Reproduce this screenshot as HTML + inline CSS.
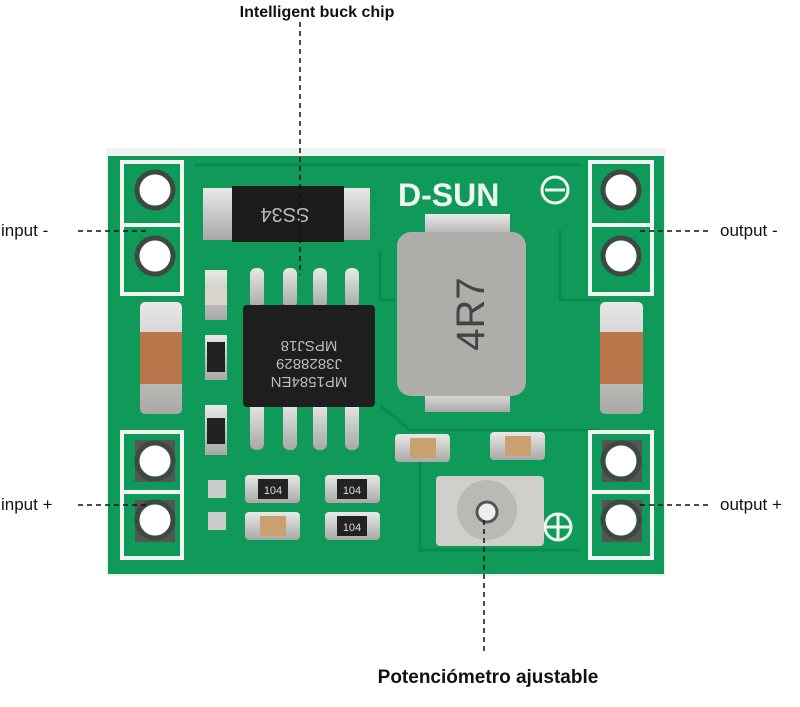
<!DOCTYPE html>
<html><head><meta charset="utf-8"><style>
body{margin:0;background:#fff;width:800px;height:707px;overflow:hidden}
svg{display:block}
text{font-family:"Liberation Sans",sans-serif}
</style></head><body>
<svg width="800" height="707" viewBox="0 0 800 707">
<defs>
<linearGradient id="sil" x1="0" y1="0" x2="0" y2="1"><stop offset="0" stop-color="#e8e8e6"/><stop offset="1" stop-color="#a8a8a6"/></linearGradient>
</defs>
<rect x="106" y="148" width="560" height="428" fill="#eef4ef"/>
<rect x="108" y="156" width="556" height="418" fill="#0f9a5a"/>
<g stroke="#0a8a4c" stroke-width="3" fill="none">
<path d="M195 165 H580"/><path d="M380 250 V300 H395"/><path d="M380 405 L410 430 H600"/><path d="M560 230 V300 H600"/><path d="M420 460 V550 H580"/>
</g>
<g fill="none" stroke="#f2f6f2" stroke-width="4">
<rect x="122" y="162" width="60" height="132"/><line x1="122" y1="225" x2="182" y2="225"/>
<rect x="122" y="432" width="60" height="126"/><line x1="122" y1="492" x2="182" y2="492"/>
<rect x="590" y="162" width="62" height="132"/><line x1="590" y1="225" x2="652" y2="225"/>
<rect x="590" y="432" width="62" height="126"/><line x1="590" y1="492" x2="652" y2="492"/>
</g>
<g fill="#555"><rect x="135" y="440" width="40" height="42"/><rect x="135" y="500" width="40" height="42"/><rect x="602" y="440" width="40" height="42"/><rect x="602" y="500" width="40" height="42"/></g>
<g fill="#fff" stroke="#3a4a40" stroke-width="5">
<circle cx="155" cy="190" r="18"/><circle cx="155" cy="256" r="18"/><circle cx="155" cy="461" r="18"/><circle cx="155" cy="520" r="18"/>
<circle cx="621" cy="190" r="18"/><circle cx="621" cy="256" r="18"/><circle cx="621" cy="461" r="18"/><circle cx="621" cy="520" r="18"/>
</g>
<rect x="140" y="302" width="42" height="112" rx="5" fill="url(#sil)"/><rect x="140" y="332" width="42" height="52" fill="#b8764a"/>
<rect x="600" y="302" width="43" height="112" rx="5" fill="url(#sil)"/><rect x="600" y="332" width="43" height="52" fill="#b8764a"/>
<rect x="203" y="188" width="30" height="52" fill="url(#sil)"/><rect x="340" y="188" width="30" height="52" fill="url(#sil)"/>
<rect x="232" y="186" width="112" height="56" fill="#1c1c1c"/>
<text x="285" y="222" font-size="20" fill="#bbb" text-anchor="middle" transform="rotate(180 285 215)">SS34</text>
<g fill="url(#sil)">
<rect x="250" y="268" width="14" height="40" rx="6"/><rect x="283" y="268" width="14" height="40" rx="6"/><rect x="313" y="268" width="14" height="40" rx="6"/><rect x="345" y="268" width="14" height="40" rx="6"/>
<rect x="250" y="402" width="14" height="48" rx="6"/><rect x="283" y="402" width="14" height="48" rx="6"/><rect x="313" y="402" width="14" height="48" rx="6"/><rect x="345" y="402" width="14" height="48" rx="6"/>
</g>
<rect x="243" y="305" width="132" height="102" rx="4" fill="#1e1e1e"/>
<g transform="rotate(180 309 355)" fill="#bbb" font-size="15" text-anchor="middle">
<text x="309" y="333">MP1584EN</text><text x="309" y="351">J3828829</text><text x="309" y="369">MPSJ18</text></g>
<rect x="425" y="214" width="85" height="25" fill="url(#sil)"/><rect x="425" y="390" width="85" height="22" fill="url(#sil)"/>
<rect x="397" y="232" width="129" height="164" rx="14" fill="#aeadaa"/>
<text x="470" y="328" font-size="40" fill="#444" text-anchor="middle" transform="rotate(-90 470 314)">4R7</text>
<text x="398" y="206" font-size="32" font-weight="bold" fill="#f0f5f0">D-SUN</text>
<circle cx="555" cy="190" r="13" fill="none" stroke="#f0f5f0" stroke-width="3"/><line x1="545" y1="190" x2="565" y2="190" stroke="#f0f5f0" stroke-width="3"/>
<circle cx="558" cy="527" r="13" fill="none" stroke="#f0f5f0" stroke-width="3"/><line x1="545" y1="527" x2="571" y2="527" stroke="#f0f5f0" stroke-width="3"/><line x1="558" y1="514" x2="558" y2="540" stroke="#f0f5f0" stroke-width="3"/>
<rect x="205" y="270" width="22" height="50" fill="url(#sil)"/><rect x="205" y="285" width="22" height="20" fill="#d8d4cc"/>
<rect x="205" y="335" width="22" height="45" fill="url(#sil)"/><rect x="207" y="342" width="18" height="30" fill="#222"/>
<rect x="205" y="405" width="22" height="50" fill="url(#sil)"/><rect x="207" y="418" width="18" height="26" fill="#222"/>
<rect x="208" y="480" width="18" height="18" fill="#ccc"/><rect x="208" y="512" width="18" height="18" fill="#ccc"/>
<rect x="245" y="475" width="55" height="28" rx="4" fill="url(#sil)"/><rect x="258" y="479" width="30" height="20" fill="#222"/>
<rect x="245" y="512" width="55" height="28" rx="4" fill="url(#sil)"/><rect x="260" y="516" width="26" height="20" fill="#c9a070"/>
<rect x="325" y="475" width="55" height="28" rx="4" fill="url(#sil)"/><rect x="337" y="479" width="30" height="20" fill="#222"/>
<rect x="325" y="512" width="55" height="28" rx="4" fill="url(#sil)"/><rect x="337" y="516" width="30" height="20" fill="#222"/>
<g fill="#ddd" font-size="11" text-anchor="middle"><text x="273" y="494">104</text><text x="352" y="494">104</text><text x="352" y="531">104</text></g>
<rect x="395" y="434" width="55" height="28" rx="4" fill="url(#sil)"/><rect x="410" y="438" width="26" height="20" fill="#c9a070"/>
<rect x="490" y="432" width="55" height="28" rx="4" fill="url(#sil)"/><rect x="505" y="436" width="26" height="20" fill="#c9a070"/>
<rect x="436" y="476" width="108" height="70" rx="4" fill="#cfcfcc"/>
<circle cx="487" cy="510" r="30" fill="#b9b9b6"/><circle cx="487" cy="512" r="10" fill="#eee" stroke="#555" stroke-width="3"/>
<g stroke="#111" stroke-width="1.5" stroke-dasharray="5,4" fill="none">
<line x1="300" y1="22" x2="300" y2="275"/>
<line x1="78" y1="231" x2="150" y2="231"/><line x1="78" y1="505" x2="150" y2="505"/>
<line x1="640" y1="231" x2="712" y2="231"/><line x1="640" y1="505" x2="712" y2="505"/>
<line x1="484" y1="520" x2="484" y2="655"/>
</g>
<g fill="#111" font-size="17">
<text x="317" y="17" text-anchor="middle" font-weight="bold" font-size="16">Intelligent buck chip</text>
<text x="1" y="236">input -</text><text x="1" y="510">input +</text>
<text x="720" y="236">output -</text><text x="720" y="510">output +</text>
<text x="488" y="683" text-anchor="middle" font-size="19" font-weight="bold">Potenciómetro ajustable</text>
</g>
</svg>
</body></html>
